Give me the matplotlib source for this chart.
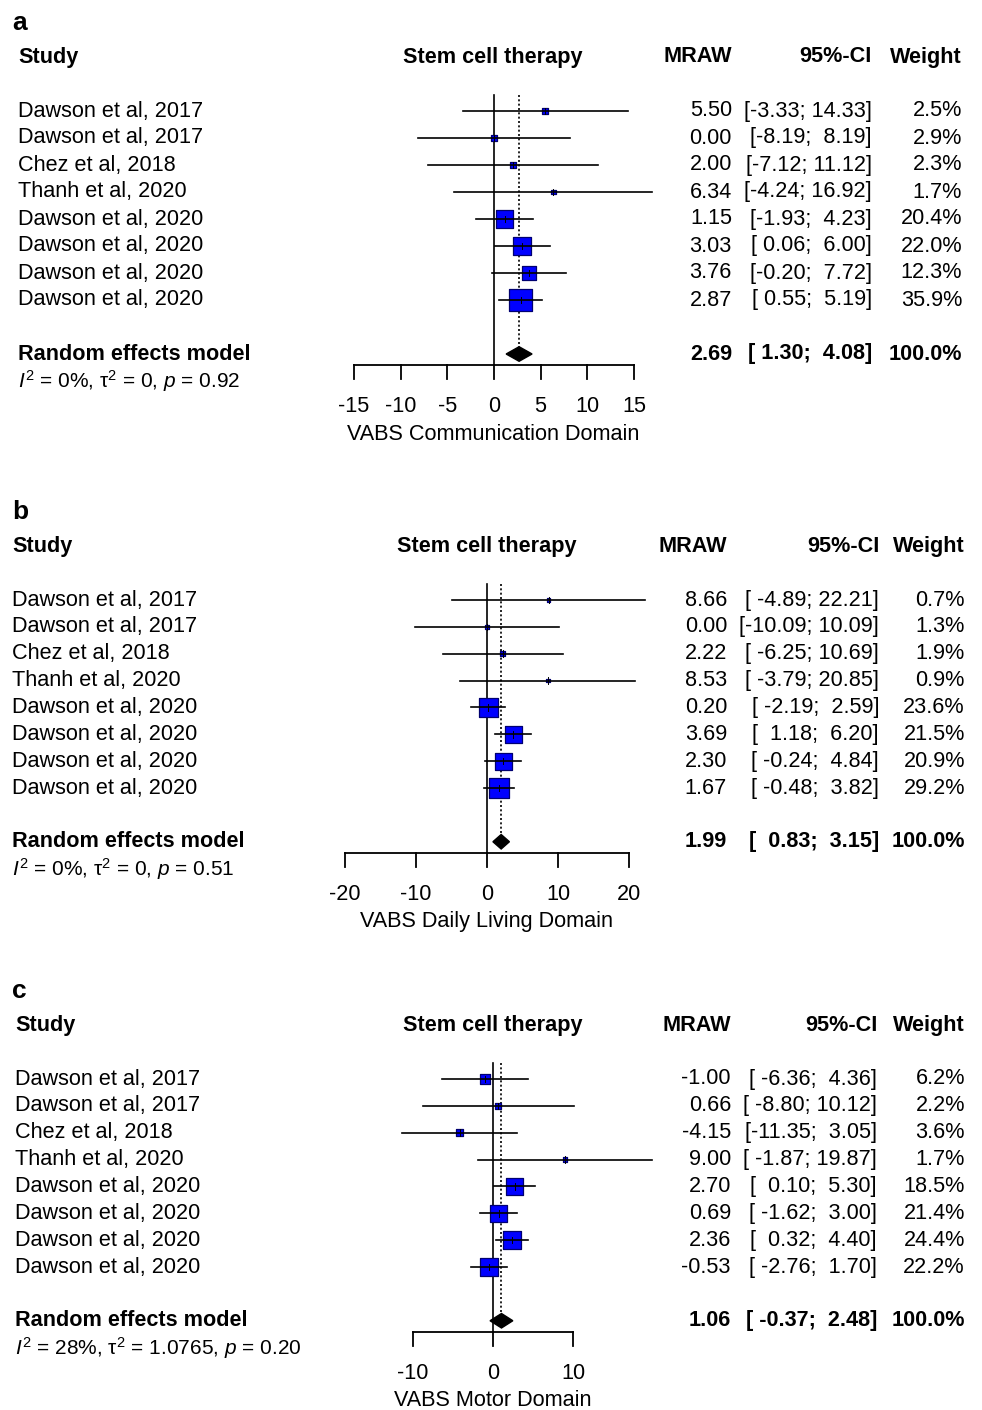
import numpy as np
import matplotlib
matplotlib.use("Agg")
import matplotlib.pyplot as plt

plt.rcParams['font.family'] = ['Liberation Sans', 'DejaVu Sans']
plt.rcParams['mathtext.fontset'] = 'custom'
plt.rcParams['mathtext.rm'] = 'Liberation Sans'
plt.rcParams['mathtext.it'] = 'Liberation Sans:italic'
plt.rcParams['mathtext.bf'] = 'Liberation Sans:bold'

# ---- data ----
studies = ["Dawson et al, 2017", "Dawson et al, 2017", "Chez et al, 2018", "Thanh et al, 2020",
           "Dawson et al, 2020", "Dawson et al, 2020", "Dawson et al, 2020", "Dawson et al, 2020"]

comm_mean = [5.50, 0.00, 2.00, 6.34, 1.15, 3.03, 3.76, 2.87]
comm_lo = [-3.33, -8.19, -7.12, -4.24, -1.93, 0.06, -0.20, 0.55]
comm_hi = [14.33, 8.19, 11.12, 16.92, 4.23, 6.00, 7.72, 5.19]
comm_w = [2.5, 2.9, 2.3, 1.7, 20.4, 22.0, 12.3, 35.9]
comm_re = [2.69, 1.30, 4.08]
comm_het = r"$I^2$ = 0%, τ$^2$ = 0, $p$ = 0.92"

daily_mean = [8.66, 0.00, 2.22, 8.53, 0.20, 3.69, 2.30, 1.67]
daily_lo = [-4.89, -10.09, -6.25, -3.79, -2.19, 1.18, -0.24, -0.48]
daily_hi = [22.21, 10.09, 10.69, 20.85, 2.59, 6.20, 4.84, 3.82]
daily_w = [0.7, 1.3, 1.9, 0.9, 23.6, 21.5, 20.9, 29.2]
daily_re = [1.99, 0.83, 3.15]
daily_het = r"$I^2$ = 0%, τ$^2$ = 0, $p$ = 0.51"

motor_mean = [-1.00, 0.66, -4.15, 9.00, 2.70, 0.69, 2.36, -0.53]
motor_lo = [-6.36, -8.80, -11.35, -1.87, 0.10, -1.62, 0.32, -2.76]
motor_hi = [4.36, 10.12, 3.05, 19.87, 5.30, 3.00, 4.40, 1.70]
motor_w = [6.2, 2.2, 3.6, 1.7, 18.5, 21.4, 24.4, 22.2]
motor_re = [1.06, -0.37, 2.48]
motor_het = r"$I^2$ = 28%, τ$^2$ = 1.0765, $p$ = 0.20"

W, H = 982, 1410
fig = plt.figure(figsize=(W / 100, H / 100), dpi=100)
FS = 15.6

# panel layout: letter, data, axis pixel mapping, row placement, text columns
panels = [
    dict(letter="a", mean=comm_mean, lo=comm_lo, hi=comm_hi, w=comm_w, re=comm_re, het=comm_het,
         ticks=[-15, -10, -5, 0, 5, 10, 15], xlabel="VABS Communication Domain",
         zero=494, ppu=9.33, y0=111, sp=27.0,
         study_x=18, head_x=493, mraw_x=732, ci_x=872, w_x=962),
    dict(letter="b", mean=daily_mean, lo=daily_lo, hi=daily_hi, w=daily_w, re=daily_re, het=daily_het,
         ticks=[-20, -10, 0, 10, 20], xlabel="VABS Daily Living Domain",
         zero=487, ppu=7.12, y0=600, sp=26.86,
         study_x=12, head_x=487, mraw_x=727, ci_x=879, w_x=965),
    dict(letter="c", mean=motor_mean, lo=motor_lo, hi=motor_hi, w=motor_w, re=motor_re, het=motor_het,
         ticks=[-10, 0, 10], xlabel="VABS Motor Domain",
         zero=493, ppu=8.0, y0=1079, sp=26.86,
         study_x=15, head_x=493, mraw_x=731, ci_x=877, w_x=965),
]

ytop, ybot = -3.8, 12.4
for p in panels:
    bottom = 1 - (p["y0"] + ybot * p["sp"]) / H
    height = (ybot - ytop) * p["sp"] / H
    ax = fig.add_axes([0, bottom, 1, height])
    ax.set_xlim(-p["zero"] / p["ppu"], (W - p["zero"]) / p["ppu"])
    ax.set_ylim(ybot, ytop)
    ax.axis("off")
    tr = ax.get_yaxis_transform()
    fx = lambda px: px / W

    n = len(studies)
    rows = np.arange(n)
    re_row = n + 1
    axis_row = re_row + 0.42

    # reference lines
    ax.plot([0, 0], [-0.6, axis_row], color="black", lw=1.2)
    ax.plot([p["re"][0]] * 2, [-0.6, re_row - 0.27], color="black", lw=1.2, ls=(0, (1.2, 1.4)))

    # CI lines and squares
    for i in rows:
        ax.plot([p["lo"][i], p["hi"][i]], [i, i], color="black", lw=1.2, zorder=3)
    sizes = 7.4 * np.array(p["w"])
    ax.scatter(p["mean"], rows, s=sizes, marker="s", color="#0000ff",
               edgecolors="#000070", linewidths=0.9, zorder=2)
    for i in rows:
        ax.plot([p["mean"][i]] * 2, [i - 0.12, i + 0.12], color="black", lw=0.7, zorder=4)

    # pooled diamond
    est, lo, hi = p["re"]
    ax.fill([lo, est, hi, est], [re_row, re_row - 0.27, re_row, re_row + 0.27],
            color="black", zorder=3)

    # x axis
    ax.plot([p["ticks"][0], p["ticks"][-1]], [axis_row, axis_row], color="black", lw=1.3)
    for t in p["ticks"]:
        ax.plot([t, t], [axis_row, axis_row + 0.52], color="black", lw=1.3)
        ax.text(t, axis_row + 1.53, str(t), ha="center", va="center", fontsize=FS)
    ax.text(fx(p["head_x"]), axis_row + 2.56, p["xlabel"], transform=tr,
            ha="center", va="center", fontsize=FS)

    # panel letter and headers
    ax.text(fx(12), -3.0, p["letter"], transform=tr, fontsize=19, fontweight="bold", va="baseline")
    ax.text(fx(p["study_x"]), -2, "Study", transform=tr, fontsize=FS, fontweight="bold", va="center")
    ax.text(fx(p["head_x"]), -2, "Stem cell therapy", transform=tr, fontsize=FS,
            fontweight="bold", va="center", ha="center")
    ax.text(fx(p["mraw_x"]), -2, "MRAW", transform=tr, fontsize=FS, fontweight="bold",
            va="center", ha="right")
    ax.text(fx(p["ci_x"]), -2, "95%-CI", transform=tr, fontsize=FS, fontweight="bold",
            va="center", ha="right")
    ax.text(fx(p["w_x"]), -2, "Weight", transform=tr, fontsize=FS, fontweight="bold",
            va="center", ha="right")

    # text columns, R-style padded formatting
    all_lo = p["lo"] + [lo]
    all_hi = p["hi"] + [hi]
    wl = max(len(f"{v:.2f}") for v in all_lo)
    wh = max(len(f"{v:.2f}") for v in all_hi)
    ci_txt = [f"[{a:{wl}.2f}; {b:{wh}.2f}]" for a, b in zip(all_lo, all_hi)]
    for i in rows:
        ax.text(fx(p["study_x"]), i, studies[i], transform=tr, fontsize=FS, va="center")
        ax.text(fx(p["mraw_x"]), i, f"{p['mean'][i]:.2f}", transform=tr, fontsize=FS,
                va="center", ha="right")
        ax.text(fx(p["ci_x"]), i, ci_txt[i], transform=tr, fontsize=FS, va="center", ha="right")
        ax.text(fx(p["w_x"]), i, f"{p['w'][i]:.1f}%", transform=tr, fontsize=FS,
                va="center", ha="right")

    ax.text(fx(p["study_x"]), re_row, "Random effects model", transform=tr, fontsize=FS,
            fontweight="bold", va="center")
    ax.text(fx(p["mraw_x"]), re_row, f"{est:.2f}", transform=tr, fontsize=FS,
            fontweight="bold", va="center", ha="right")
    ax.text(fx(p["ci_x"]), re_row, ci_txt[-1], transform=tr, fontsize=FS,
            fontweight="bold", va="center", ha="right")
    ax.text(fx(p["w_x"]), re_row, "100.0%", transform=tr, fontsize=FS,
            fontweight="bold", va="center", ha="right")
    ax.text(fx(p["study_x"]), re_row + 1, p["het"], transform=tr, fontsize=FS - 0.6, va="center")

fig.savefig("out.png", dpi=100, facecolor="white")
